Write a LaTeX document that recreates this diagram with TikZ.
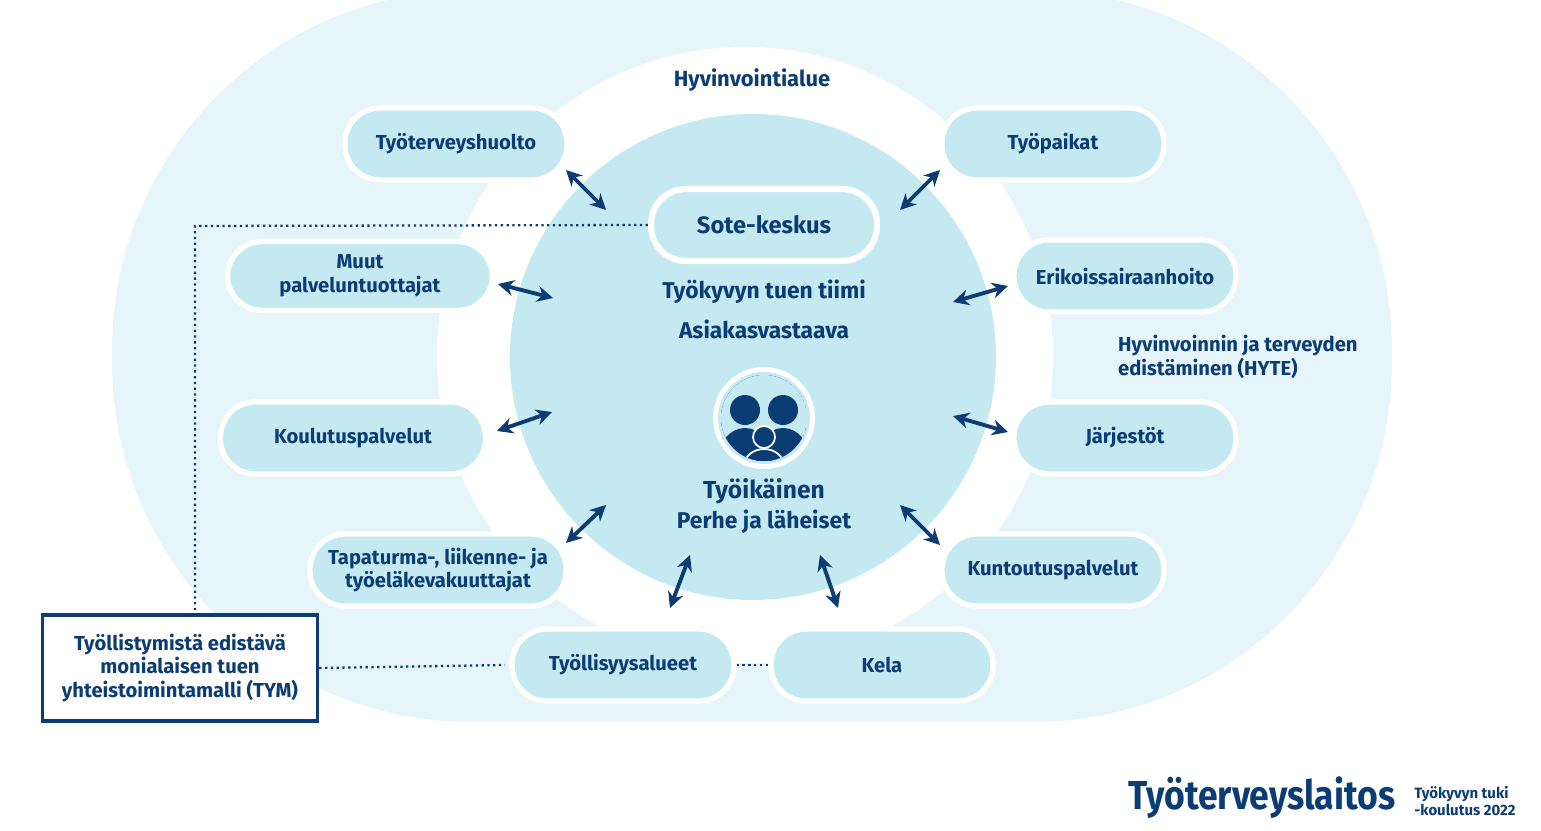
\documentclass[tikz,border=0pt]{standalone}
\usepackage{fontspec}
\setmainfont{Fira Sans}
\usetikzlibrary{arrows.meta}
\definecolor{navy}{HTML}{0B3C73}
\definecolor{outerbg}{HTML}{E6F5FA}
\definecolor{innerbg}{HTML}{C4E9F1}
\definecolor{pill}{HTML}{C4E9F1}
\begin{document}
\begin{tikzpicture}[x=0.02cm,y=-0.02cm,
  pill/.style={draw=white,line width=3pt,fill=pill,rounded corners=0.7cm,minimum width=4.44cm,minimum height=1.44cm,text=navy,font=\fontsize{11.5}{13.5}\selectfont\bfseries,align=center,inner sep=2pt},
  arr/.style={<->,>={Stealth[length=9pt,width=9pt]},line width=2.2pt,draw=navy},
  dot/.style={navy,line width=1.3pt,dotted},
  txt/.style={text=navy,font=\fontsize{12.5}{14}\selectfont\bfseries,align=center}]
\useasboundingbox (0,0) rectangle (1541,831);
\fill[outerbg,rounded corners=7.2cm] (112,-10) rectangle (1392,722);
\fill[white] (745,355) circle (308);
\fill[innerbg] (753,357) circle (243);
% nodes
\node[pill] (tth) at (456,144) {Työterveyshuolto};
\node[pill] (tp) at (1053,144) {Työpaikat};
\node[pill,minimum width=4.52cm,line width=3.5pt] (sote) at (764,225) {\fontsize{13.5}{15}\selectfont Sote-keskus};
\node[pill,minimum width=5.3cm,minimum height=1.38cm] (muut) at (360,276) {Muut\\palveluntuottajat};
\node[pill] (esh) at (1125,276) {Erikoissairaanhoito};
\node[pill,minimum width=5.3cm] (kp) at (353,438) {Koulutuspalvelut};
\node[pill] (jar) at (1125,438) {Järjestöt};
\node[pill,minimum width=5.12cm] (tap) at (438,570) {Tapaturma-, liikenne- ja\\työeläkevakuuttajat};
\node[pill] (kun) at (1053,570) {Kuntoutuspalvelut};
\node[pill] (tya) at (623,665) {Työllisyysalueet};
\node[pill] (kela) at (882,665) {Kela};
\node[draw=navy,line width=2pt,fill=white,minimum width=5.5cm,minimum height=2.12cm,txt,font=\fontsize{11.5}{13.5}\selectfont\bfseries] (tym) at (180,668) {Työllistymistä edistävä\\monialaisen tuen\\yhteistoimintamalli (TYM)};
% texts
\node[txt] (hva) at (752,80) {Hyvinvointialue};
\node[txt,font=\fontsize{13}{15}\selectfont\bfseries] (tiimi) at (764,292) {Työkyvyn tuen tiimi};
\node[txt,font=\fontsize{13}{15}\selectfont\bfseries] (asv) at (764,329) {Asiakasvastaava};
\node[txt,align=left,anchor=west,font=\fontsize{11.5}{14}\selectfont\bfseries] (hyte) at (1112,357) {Hyvinvoinnin ja terveyden\\edistäminen (HYTE)};
\node[txt,font=\fontsize{14}{15}\selectfont\bfseries] (ti) at (764,491) {Työikäinen};
\node[txt,font=\fontsize{13}{15}\selectfont\bfseries] (perhe) at (764,522) {Perhe ja läheiset};
% icon
\fill[white] (764,418) circle (51);
\fill[innerbg] (764,418) circle (46);
\begin{scope}
\clip (764,418) circle (43);
\fill[navy] (764,418) circle (43);
\fill[innerbg] (720,374) rectangle (808,460);
\fill[navy] (745,410) circle (15);
\fill[navy] (783,410) circle (15);
\fill[navy] (745,460) ellipse (27 and 32);
\fill[navy] (783,460) ellipse (27 and 32);
\draw[white,line width=1pt,fill=navy] (764,466) ellipse (20 and 17);
\draw[white,line width=1pt,fill=navy] (764,437) circle (11);
\end{scope}
\node[inner sep=0] (icon) at (764,418) {};
% arrows
\coordinate (a1) at (566,170); \coordinate (b1) at (606,210);
\coordinate (a2) at (940,170); \coordinate (b2) at (900,210);
\coordinate (a3) at (498,284); \coordinate (b3) at (553,298);
\coordinate (a4) at (1008,286); \coordinate (b4) at (953,302);
\coordinate (a5) at (497,431); \coordinate (b5) at (552,412);
\coordinate (a6) at (1008,432); \coordinate (b6) at (953,416);
\coordinate (a7) at (566,543); \coordinate (b7) at (606,505);
\coordinate (a8) at (900,505); \coordinate (b8) at (940,545);
\coordinate (a9) at (690,555); \coordinate (b9) at (670,608);
\coordinate (a10) at (820,555); \coordinate (b10) at (838,608);
\foreach \i in {1,...,10} \draw[arr] (a\i) -- (b\i);
% dotted
\coordinate (corner) at (195,226);
\draw[dot] (sote.west) -- (corner) -- (tym.north -| corner);
\coordinate (d1) at (505,665);
\draw[dot] (tym.east) -- (d1);
\draw[dot] (tya.east) -- (kela.west);
% logo
\node[text=navy,font=\fontsize{23}{26}\selectfont\bfseries,anchor=west,xscale=0.88,inner sep=0] (logo) at (1128,798) {Työterveyslaitos};
\node[txt,font=\fontsize{8.5}{10}\selectfont\bfseries,align=left,anchor=west,inner sep=0] (kou) at (1414,801) {Työkyvyn tuki\\-koulutus 2022};
\end{tikzpicture}
\end{document}
